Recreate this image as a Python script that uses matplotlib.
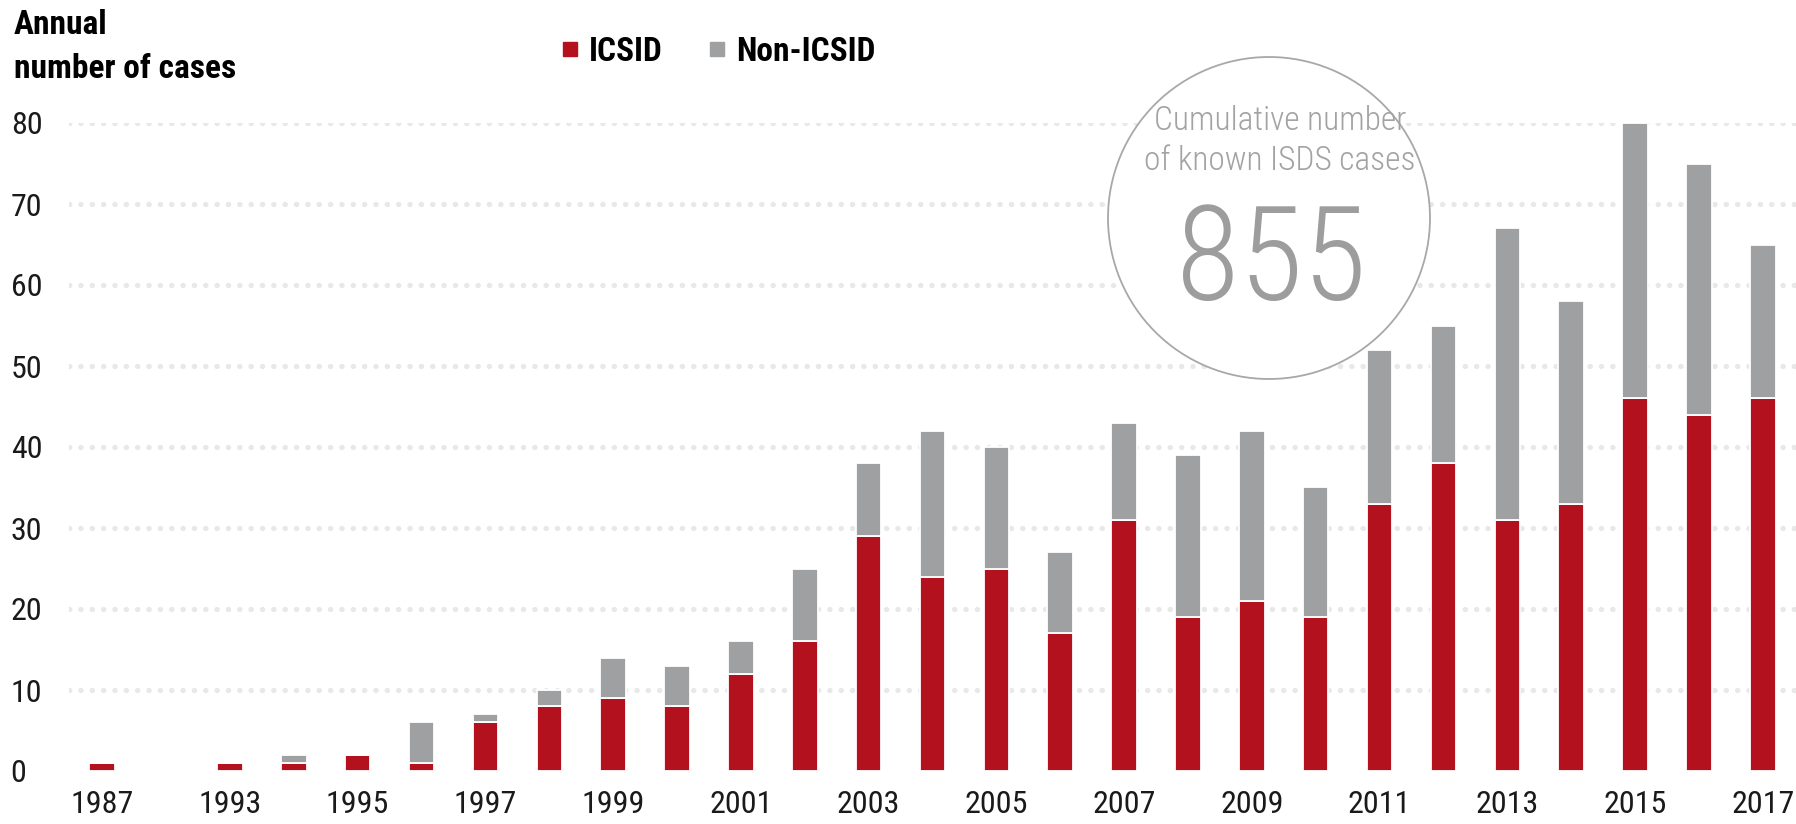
import matplotlib.pyplot as plt
from matplotlib import font_manager
from matplotlib.patches import Ellipse
from matplotlib.lines import Line2D

years = [1987] + list(range(1993, 2018))
icsid = [1, 1, 1, 2, 1, 6, 8, 9, 8, 12, 16, 29, 24, 25, 17, 31, 19, 21, 19, 33, 38, 31, 33, 46, 44, 46]
non_icsid = [0, 0, 1, 0, 5, 1, 2, 5, 5, 4, 9, 9, 18, 15, 10, 12, 20, 21, 16, 19, 17, 36, 25, 34, 31, 19]
tick_years = [1987] + list(range(1993, 2018, 2))
total_cases = 855

RED = "#b3111d"
GREY = "#9fa0a2"
W, H = 1796, 824

# narrow sans like the original, whichever is around
have = {f.name for f in font_manager.fontManager.ttflist}
narrow = [n for n in ['Liberation Sans Narrow', 'Arial Narrow', 'Roboto Condensed',
                      'Archivo Narrow', 'PT Sans Narrow'] if n in have]
plt.rcParams['font.family'] = narrow[:1] + ['DejaVu Sans']

# 1988-1992 collapsed into one empty slot
pos = [0 if y == 1987 else y - 1991 for y in years]

fig = plt.figure(figsize=(W / 100, H / 100), dpi=100)
ax = fig.add_axes([69 / W, 1 - 771 / H, 1 - 69 / W, (771 - 123) / H])

ax.bar(pos, icsid, width=0.4, color=RED, edgecolor="white", linewidth=1.3, zorder=3)
ax.bar(pos, non_icsid, bottom=icsid, width=0.4, color=GREY, edgecolor="white", linewidth=1.3, zorder=3)

ax.set_xlim(-0.52, 26.52)
ax.set_ylim(0, 80)
ax.set_yticks(range(0, 81, 10))
ax.set_xticks([0 if y == 1987 else y - 1991 for y in tick_years])
ax.set_xticklabels([str(y) for y in tick_years])
ax.tick_params(axis="x", length=0, pad=14, labelsize=23, colors="#1a1a1a")
ax.tick_params(axis="y", length=0, pad=42, labelsize=23, colors="#1a1a1a")
for t in ax.get_yticklabels():
    t.set_horizontalalignment("left")

ax.yaxis.grid(True, color="#e8e8e8", linewidth=3.8, linestyle=(0, (0.05, 2.1)),
              dash_capstyle="round", zorder=0)
ax.get_ygridlines()[0].set_visible(False)
ax.set_axisbelow(True)
for s in ax.spines.values():
    s.set_visible(False)

# title
fig.text(14 / W, 1 - 25 / H, "Annual", fontsize=24, fontweight="bold", va="center", ha="left")
fig.text(14 / W, 1 - 69 / H, "number of cases", fontsize=24, fontweight="bold", va="center", ha="left")

# legend
handles = [Line2D([], [], marker="s", linestyle="", markersize=10, color=RED),
           Line2D([], [], marker="s", linestyle="", markersize=10, color=GREY)]
leg = fig.legend(handles, ["ICSID", "Non-ICSID"], ncol=2, frameon=False,
                 loc="center left", bbox_to_anchor=(532 / W, 1 - 52 / H),
                 handlelength=0.5, handletextpad=0.3, columnspacing=1.4,
                 prop={"size": 24, "weight": "bold"})

# cumulative circle
cx, cy, r = 1269, 218, 161
circ = Ellipse((cx / W, 1 - cy / H), 2 * r / W, 2 * r / H, transform=fig.transFigure,
               facecolor="white", edgecolor="#a8a8a8", linewidth=1.3, zorder=5)
fig.add_artist(circ)
fig.text(1280 / W, 1 - 121 / H, "Cumulative number", fontsize=24, color="#a3a3a3",
         fontweight="light", ha="center", va="center", zorder=6)
fig.text(1280 / W, 1 - 161 / H, "of known ISDS cases", fontsize=24, color="#a3a3a3",
         fontweight="light", ha="center", va="center", zorder=6)
fig.text(1271 / W, 1 - 264 / H, str(total_cases), fontsize=94, color="#9d9d9d",
         fontweight="light", ha="center", va="center", zorder=6)

fig.savefig("out.png", dpi=100)
